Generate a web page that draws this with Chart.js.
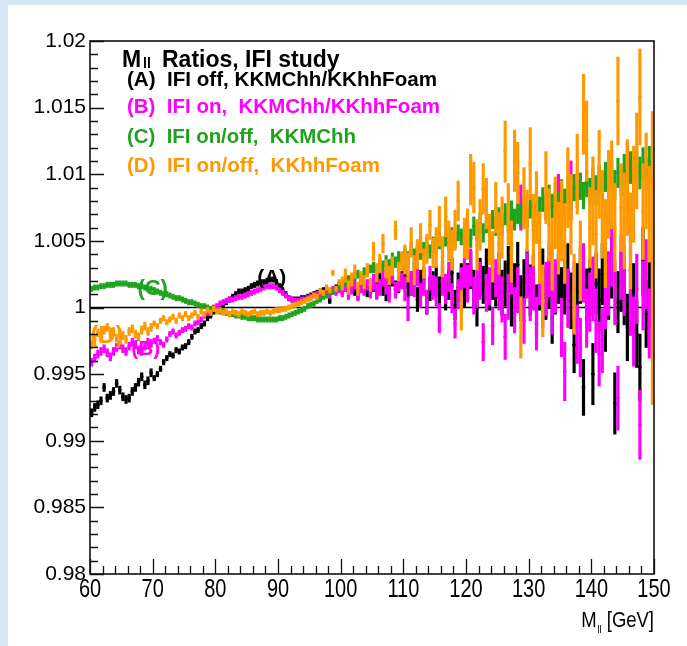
<!DOCTYPE html>
<html>
<head>
<meta charset="utf-8">
<script src="https://cdn.jsdelivr.net/npm/chart.js@4.4.1/dist/chart.umd.min.js"></script>
<style>
  html, body { margin: 0; padding: 0; }
  body { width: 687px; height: 646px; background: #d6e6f6; position: relative; overflow: hidden; }
  #panel { position: absolute; left: 8px; top: 5px; right: 0; bottom: 0; background: #fff; }
  #wrap { position: absolute; left: 0; top: 0; width: 687px; height: 646px; }
</style>
</head>
<body>
<div id="panel"></div>
<div id="wrap"><canvas id="myChart" width="687" height="646"></canvas></div>
<script>
// Histogram binning: 0.5 GeV bins from 60 to 150 GeV
const massLo = 60;
const binWidth = 0.5;

// Ratios, stored as (ratio - 1) x 10^4, one row per 5 GeV
const devA = [
  -79, -75, -73, -70, -60, -68, -66, -63, -57, -62,
  -67, -69, -68, -63, -60, -56, -52, -58, -55, -49,
  -53, -50, -46, -41, -38, -35, -36, -32, -33, -30,
  -29, -26, -22, -18, -17, -14, -12, -8, -6, -3,
  -2, 0, 2, 4, 6, 8, 10, 12, 12, 13,
  14, 16, 17, 18, 19, 19, 20, 21, 21, 19,
  16, 13, 10, 7, 6, 6, 6, 7, 7, 8,
  9, 10, 11, 12, 13, 11, 5, 12, 15, 17,
  14, 16, 12, 18, 13, 10, 17, 14, 12, 16,
  18, 13, 20, 15, 11, 19, 22, 14, 17, 21,
  23, 16, 18, 25, 6, 19, 21, 4, 14, 18,
  20, 12, 24, 9, 17, 26, 2, 15, 22, 11,
  19, 28, 14, 0, 23, 17, 30, 12, 20, 15,
  24, 11, 18, 29, 3, 16, 32, 7, 19, 26,
  13, 21, -2, 17, 25, 10, 18, -8, 14, 22,
  9, 16, 27, 5, -28, 12, 24, -60, 8, 15,
  -50, 18, 6, 25, -10, 14, 30, -72, 4, 20,
  12, -15, 28, 8, -20, -45, 35, -5, 10, 18
];
const devB = [
  -41, -38, -35, -33, -31, -34, -37, -33, -30, -28,
  -31, -33, -29, -26, -28, -32, -33, -29, -26, -27,
  -25, -23, -26, -28, -24, -20, -18, -21, -19, -17,
  -16, -14, -15, -12, -11, -9, -6, -4, -2, 0,
  1, 3, 4, 5, 6, 6, 7, 8, 8, 9,
  10, 11, 12, 13, 14, 15, 16, 16, 16, 15,
  13, 11, 9, 7, 6, 5, 5, 6, 6, 7,
  8, 9, 10, 10, 11, 12, 9, 14, 11, 13,
  12, 16, 10, 14, 18, 9, 15, 13, 17, 11,
  19, 12, 15, 22, 16, 10, 24, 13, 18, 20,
  14, -1, 18, 17, 25, 9, 18, 4, 22, 15,
  12, -8, 20, 14, 23, 7, -12, 10, 19, 26,
  18, 30, 9, 14, 20, -26, 11, 16, -14, 22,
  15, 6, -22, 8, 27, -2, 13, 75, -10, 24,
  10, 18, -12, 22, 5, 14, 28, 0, 16, 80,
  -15, -48, 7, 88, 12, -20, -30, 26, -8, 4,
  14, -10, -35, -25, 8, 18, 40, 11, -68, 30,
  20, 98, 5, -18, 14, -88, 9, 25, -12, 6
];
const devC = [
  14, 15, 15, 16, 16, 17, 17, 17, 18, 18,
  18, 18, 17, 17, 17, 16, 16, 15, 14, 14,
  13, 12, 11, 10, 10, 9, 8, 7, 7, 6,
  5, 4, 4, 3, 2, 1, 1, 0, -1, -1,
  -2, -3, -3, -4, -5, -5, -6, -6, -7, -7,
  -8, -8, -8, -9, -9, -9, -9, -9, -9, -9,
  -8, -8, -7, -6, -5, -4, -3, -2, -1, 1,
  2, 3, 5, 6, 8, 9, 11, 12, 14, 15,
  17, 19, 21, 20, 23, 25, 22, 27, 26, 29,
  30, 28, 33, 31, 35, 32, 37, 34, 38, 36,
  40, 37, 43, 39, 45, 41, 44, 47, 42, 48,
  46, 50, 47, 52, 49, 54, 51, 56, 53, 55,
  58, 52, 61, 57, 64, 56, 63, 60, 66, 61,
  67, 62, 70, 64, 72, 66, 71, 69, 75, 68,
  76, 70, 79, 74, 81, 75, 83, 76, 85, 78,
  86, 79, 88, 82, 90, 85, 91, 84, 93, 87,
  94, 88, 96, 90, 98, 93, 100, 92, 101, 95,
  103, 96, 105, 98, 106, 101, 108, 100, 109, 103
];
const devD = [
  -28, -24, -19, -22, -17, -15, -20, -18, -23, -19,
  -21, -24, -18, -16, -20, -22, -17, -14, -18, -15,
  -12, -14, -10, -8, -11, -9, -7, -10, -6, -8,
  -5, -8, -6, -4, -7, -3, -5, -2, -4, -1,
  -3, -2, -4, -3, -5, -3, -4, -5, -3, -4,
  -5, -4, -3, -5, -4, -4, -3, -4, -3, -2,
  -2, -1, -1, 0, 1, 2, 3, 4, 5, 6,
  7, 9, 8, 12, 11, 15, 13, 26, 14, 19,
  18, 24, 15, 21, 27, 14, 22, 19, 28, 17,
  42, 26, 33, 48, 29, 24, 31, 58, 27, 35,
  36, 30, 49, 28, 40, 52, 33, 44, 62, 41,
  45, 61, 38, 68, 50, 43, 58, 80, -2, 52,
  55, 96, 90, 47, 62, 89, 78, 51, 38, 75,
  48, 60, 117, 70, 42, 110, 101, -15, 82, 65,
  108, 58, 75, 45, 5, 90, 62, 40, 71, 52,
  65, 48, 90, 70, 10, 100, 35, 145, 125, 60,
  80, 55, 100, 70, 48, 85, 92, 60, 155, 75,
  65, 90, 50, 85, 110, 158, 72, 95, 70, 37
];

// Statistical errors x 10^4, one value per 5 GeV block
const errA = [3, 3, 2, 2, 2, 2, 2, 2, 4, 6, 9, 11, 14, 17, 19, 21, 23, 25];
const errB = [3, 3, 2, 2, 2, 2, 2, 2, 4, 6, 9, 11, 14, 17, 20, 22, 24, 26];
const errC = [2, 2, 2, 2, 2, 2, 2, 2, 3, 4, 5, 6, 7, 8, 9, 10, 11, 12];
const errD = [3, 3, 2, 2, 2, 2, 2, 2, 5, 7, 11, 15, 19, 23, 27, 30, 33, 36];
const errDLastBin = 110; // last bin of (D) has a much larger error

const refRatio = 1;

const xTicks = [60, 70, 80, 90, 100, 110, 120, 130, 140, 150];
const yTicks = [0.98, 0.985, 0.99, 0.995, 1, 1.005, 1.01, 1.015, 1.02];
const yTickLabels = ['0.98', '0.985', '0.99', '0.995', '1', '1.005', '1.01', '1.015', '1.02'];

const legendLines = [
  '(A)  IFI off, KKMChh/KKhhFoam',
  '(B)  IFI on,  KKMChh/KKhhFoam',
  '(C)  IFI on/off,  KKMChh',
  '(D)  IFI on/off,  KKhhFoam',
];

const colA = '#000000';
const colB = '#ff00ff';
const colC = '#1fa31f';
const colD = '#ff9900';

const binCenters = devA.map((_, i) => massLo + binWidth * (i + 0.5));
const toRatio = (d) => 1 + d / 1e4;

function centres(dev) {
  return dev.map((d, i) => ({ x: binCenters[i], y: toRatio(d) }));
}
function errorBars(dev, err, lastErr) {
  return dev.map((d, i) => {
    let e = err[Math.floor(i / 10)];
    if (lastErr && i === dev.length - 1) e = lastErr;
    return { x: binCenters[i], y: [toRatio(d) - e / 1e4, toRatio(d) + e / 1e4] };
  });
}

function series(dev, err, color, order, lastErr) {
  return [
    {
      type: 'line',
      data: centres(dev),
      showLine: false,
      pointStyle: 'line',
      pointRadius: 1.75,
      pointBorderWidth: 2.2,
      pointBorderColor: color,
      pointHoverRadius: 0,
      order: order,
    },
    {
      type: 'bar',
      data: errorBars(dev, err, lastErr),
      backgroundColor: color,
      borderWidth: 0,
      barThickness: 2.5,
      grouped: false,
      order: order + 1,
    },
  ];
}

const FONT = '"Liberation Sans", Arial, Helvetica, sans-serif';

const rootStyle = {
  id: 'rootStyle',
  afterDatasetsDraw(chart) {
    const { ctx, scales: { x, y } } = chart;
    const tags = [
      { text: '(A)', m: 89.0, r: 1.00176, size: 21, color: colA },
      { text: '(C)', m: 70.0, r: 1.00094, size: 22, color: colC },
      { text: '(D)', m: 62.7, r: 0.99733, size: 24, color: colD },
      { text: '(B)', m: 68.9, r: 0.99643, size: 21, color: colB },
    ];
    ctx.save();
    ctx.textAlign = 'center';
    ctx.textBaseline = 'alphabetic';
    tags.forEach((t) => {
      ctx.font = `bold ${t.size}px ${FONT}`;
      ctx.fillStyle = t.color;
      ctx.fillText(t.text, x.getPixelForValue(t.m), y.getPixelForValue(t.r));
    });
    ctx.restore();
  },
  afterDraw(chart) {
    const { ctx, chartArea: a, scales: { x, y } } = chart;
    ctx.save();
    ctx.strokeStyle = '#111';
    ctx.fillStyle = '#000';

    // inward ticks, left axis
    ctx.lineWidth = 1.3;
    ctx.beginPath();
    for (let k = 0; k <= 40; k++) {
      const py = Math.round(y.getPixelForValue(0.98 + k * 0.001)) + 0.5;
      const len = k % 5 === 0 ? 14 : 8;
      ctx.moveTo(a.left, py);
      ctx.lineTo(a.left + len, py);
    }
    // inward ticks, bottom axis
    for (let m = 60; m <= 150; m += 2) {
      const px = Math.round(x.getPixelForValue(m)) + 0.5;
      const len = m % 10 === 0 ? 15 : 8;
      ctx.moveTo(px, a.bottom);
      ctx.lineTo(px, a.bottom - len);
    }
    ctx.stroke();

    // frame
    ctx.lineWidth = 1.6;
    ctx.strokeRect(a.left, a.top, a.right - a.left, a.bottom - a.top);

    // y tick labels
    ctx.font = `21px ${FONT}`;
    ctx.textAlign = 'right';
    ctx.textBaseline = 'middle';
    yTicks.forEach((v, i) => ctx.fillText(yTickLabels[i], a.left - 4, y.getPixelForValue(v)));

    // x tick labels (narrow)
    ctx.font = `25px ${FONT}`;
    ctx.textAlign = 'center';
    ctx.textBaseline = 'alphabetic';
    xTicks.forEach((m) => {
      ctx.save();
      ctx.translate(x.getPixelForValue(m), a.bottom + 23);
      ctx.scale(0.8, 1);
      ctx.fillText(String(m), 0, 0);
      ctx.restore();
    });

    // x axis title  M_ll [GeV]
    ctx.save();
    ctx.translate(a.right, a.bottom + 53);
    ctx.scale(0.84, 1);
    ctx.textAlign = 'left';
    ctx.font = `22px ${FONT}`;
    const wM = ctx.measureText('M').width;
    const wU = ctx.measureText(' [GeV]').width;
    ctx.font = `11px ${FONT}`;
    const wS = ctx.measureText('ll').width;
    let cx = -(wM + wS + wU + 1);
    ctx.font = `22px ${FONT}`;
    ctx.fillText('M', cx, 0);
    cx += wM + 1;
    ctx.font = `11px ${FONT}`;
    ctx.fillText('ll', cx, 6);
    cx += wS;
    ctx.font = `22px ${FONT}`;
    ctx.fillText(' [GeV]', cx, 0);
    ctx.restore();

    // title block
    ctx.textAlign = 'left';
    ctx.textBaseline = 'alphabetic';
    ctx.font = `bold 23px ${FONT}`;
    ctx.fillText('M', 122, 67);
    ctx.font = `bold 14px ${FONT}`;
    ctx.fillText('ll', 143, 68);
    ctx.font = `bold 23px ${FONT}`;
    ctx.fillText('Ratios, IFI study', 162, 67);

    const rows = [
      { base: 86, end: 437, color: colA },
      { base: 113, end: 440, color: colB },
      { base: 143, end: 356, color: colC },
      { base: 172, end: 380, color: colD },
    ];
    ctx.font = `bold 20px ${FONT}`;
    rows.forEach((r, i) => {
      const w = ctx.measureText(legendLines[i]).width;
      ctx.save();
      ctx.translate(127, r.base);
      ctx.scale((r.end - 127) / w, 1);
      ctx.fillStyle = r.color;
      ctx.fillText(legendLines[i], 0, 0);
      ctx.restore();
    });
    ctx.restore();
  },
};

const datasets = [
  ...series(devD, errD, colD, 1, errDLastBin),
  ...series(devC, errC, colC, 3),
  ...series(devB, errB, colB, 5),
  ...series(devA, errA, colA, 7),
  {
    type: 'line',
    data: [{ x: massLo, y: refRatio }, { x: massLo + binWidth * devA.length, y: refRatio }],
    borderColor: '#000',
    borderWidth: 1.6,
    pointRadius: 0,
    order: 20,
  },
];

const myChart = new Chart('myChart', {
  type: 'bar',
  data: { datasets },
  options: {
    responsive: false,
    animation: false,
    events: [],
    layout: { padding: { left: 90, top: 41, right: 33, bottom: 72 } },
    plugins: { legend: { display: false }, tooltip: { enabled: false } },
    scales: {
      x: { type: 'linear', min: 60, max: 150, offset: false, display: false },
      y: { type: 'linear', min: 0.98, max: 1.02, beginAtZero: false, display: false },
    },
  },
  plugins: [rootStyle],
});
</script>
</body>
</html>
